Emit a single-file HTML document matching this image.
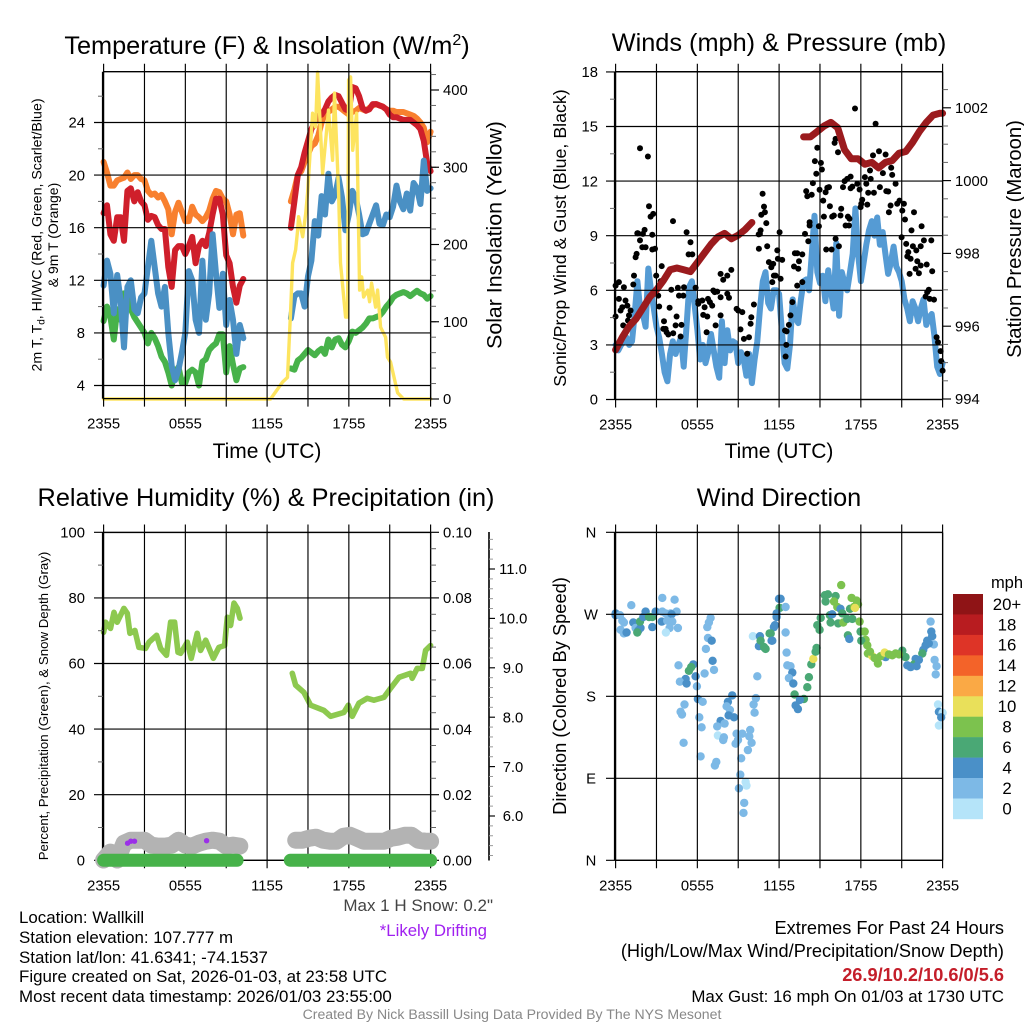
<!DOCTYPE html>
<html lang="en">
<head>
<meta charset="utf-8">
<title>Mesonet Meteogram - Wallkill</title>
<style>
html,body{margin:0;padding:0;background:#fff;}
svg{display:block;font-family:"Liberation Sans",Arial,sans-serif;fill:#000;}
.tick{font-size:14.8px;}
</style>
</head>
<body>
<svg id="chart" xmlns="http://www.w3.org/2000/svg" width="1024" height="1024" viewBox="0 0 1024 1024">
<rect width="1024" height="1024" fill="#fff"/>

<text x="267" y="54" font-size="25.3" text-anchor="middle">Temperature (F) &amp; Insolation (W/m<tspan dy="-9" font-size="16">2</tspan><tspan dy="9">)</tspan></text>
<text x="779" y="51" font-size="25.3" text-anchor="middle">Winds (mph) &amp; Pressure (mb)</text>
<text x="266" y="506" font-size="25.3" text-anchor="middle">Relative Humidity (%) &amp; Precipitation (in)</text>
<text x="779" y="506" font-size="25.3" text-anchor="middle">Wind Direction</text>

<text transform="translate(41.5 235) rotate(-90)" font-size="14.2" text-anchor="middle">2m T, T<tspan dy="3" font-size="10">d</tspan><tspan dy="-3">, HI/WC (Red, Green, Scarlet/Blue)</tspan></text>
<text transform="translate(58 235) rotate(-90)" font-size="14" text-anchor="middle">&amp; 9m T (Orange)</text>
<text transform="translate(501.5 235) rotate(-90)" font-size="21.3" text-anchor="middle">Solar Insolation (Yellow)</text>
<text transform="translate(566 238) rotate(-90)" font-size="17.8" text-anchor="middle">Sonic/Prop Wind &amp; Gust (Blue, Black)</text>
<text transform="translate(1021 239) rotate(-90)" font-size="20.3" text-anchor="middle">Station Pressure (Maroon)</text>
<text transform="translate(48 706) rotate(-90)" font-size="13.25" text-anchor="middle">Percent, Precipitation (Green), &amp; Snow Depth (Gray)</text>
<text transform="translate(566 696) rotate(-90)" font-size="18.3" text-anchor="middle">Direction (Colored By Speed)</text>

<text x="267" y="458" font-size="21" text-anchor="middle">Time (UTC)</text>
<text x="779" y="458" font-size="21" text-anchor="middle">Time (UTC)</text>

<text x="493" y="911" font-size="17" fill="#444" text-anchor="end">Max 1 H Snow: 0.2"</text>
<text x="487" y="936" font-size="16.8" fill="#a020f0" text-anchor="end">*Likely Drifting</text>

<g font-size="16.9">
<text x="19" y="923">Location: Wallkill</text>
<text x="19" y="943">Station elevation: 107.777 m</text>
<text x="19" y="963">Station lat/lon: 41.6341; -74.1537</text>
<text x="19" y="982">Figure created on Sat, 2026-01-03, at 23:58 UTC</text>
<text x="19" y="1002">Most recent data timestamp: 2026/01/03 23:55:00</text>
</g>
<g text-anchor="end" font-size="18.2">
<text x="1004" y="934">Extremes For Past 24 Hours</text>
<text x="1004" y="957">(High/Low/Max Wind/Precipitation/Snow Depth)</text>
<text x="1004" y="981" font-weight="bold" fill="#c41e2a">26.9/10.2/10.6/0/5.6</text>
<text x="1004" y="1002" font-size="16.9">Max Gust: 16 mph On 01/03 at 1730 UTC</text>
</g>
<text x="512" y="1019" font-size="14.1" fill="#888" text-anchor="middle">Created By Nick Bassill Using Data Provided By The NYS Mesonet</text>
<text x="1007" y="588" font-size="16.5" text-anchor="middle">mph</text>
</svg>

<script>
// ---------- shared axis data ----------
const timeTickLabels = ['2355','0555','1155','1755','2355'];
const timeTickHours = [0,6,12,18,24];
const timeGridHours = [0,3,6,9,12,15,18,21,24];

// ---------- temperature panel ----------
const tempTicks = [4,8,12,16,20,24];
const tempMinorTicks = [6,10,14,18,22,26];
const solarTicks = [0,100,200,300,400];
const tempHoursA = [0,.25,.5,.75,1,1.25,1.5,1.75,2,2.25,2.5,2.75,3,3.25,3.5,3.75,4,4.25,4.5,4.75,5,5.25,5.5,5.75,6,6.25,6.5,6.75,7,7.25,7.5,7.75,8,8.25,8.5,8.75,9,9.25,9.5,9.75,10,10.25];
const tempHoursB = [13.75,14,14.25,14.5,14.75,15,15.25,15.5,15.75,16,16.25,16.5,16.75,17,17.25,17.5,17.75,18,18.25,18.5,18.75,19,19.25,19.5,19.75,20,20.25,20.5,20.75,21,21.25,21.5,21.75,22,22.25,22.5,22.75,23,23.25,23.5,23.75,24];
const orangeA = [21,20.2,19.2,19.2,19.6,19.7,19.8,20.2,19.7,20,20,19.7,19.6,18.8,18.5,18.6,18.3,18.5,18,17.4,15.5,17.2,17.9,17.2,16.5,16.5,17.6,17,16.8,16.5,16.8,17.3,18.2,18.8,18.7,18.2,18,17,15.5,17,17.1,15.4];
const orangeB = [18,18.9,20,20.3,21,21.6,22.2,22.4,23,24,24.7,24.8,25,25.2,25.2,25,24.8,24.6,24.8,24.9,25.1,25,24.9,25.1,25.3,25.4,25.3,25.2,25,24.9,24.9,24.8,24.8,24.8,24.7,24.6,24.5,24.3,24,23.6,22.5,23.3];
const redA = [17.1,17.7,15.5,15,16.8,16.8,15,18.8,19,18,18.7,18,17.7,16.6,16.9,16.8,16.2,15.9,15.9,13,11.5,14.3,14.6,14.6,14,14.6,15.3,13.3,14.6,15,14.6,15.6,17,18.2,18.2,17,13.9,13.3,11.5,10.3,11.6,12.1];
const redB = [16,18,20,20.6,21.7,22.6,23.5,24,24.5,24.6,25,25.6,25.9,26.1,26,25.5,25,24.9,26.7,26.6,26,25.1,24.9,25,25.4,25.4,25.3,25.2,25,24.6,24.4,24.4,24.3,24.2,24.2,24.2,24,23.8,23.5,22.6,20.9,20.3];
const blueA = [11.6,13.5,12.5,9.5,12.4,10.5,6.9,11.5,12,9.8,9.5,10.7,11,13,15,13,11,10,11.5,8,5.5,4.4,5.2,6.5,8,12.7,12,9,8,13.5,9,11,15.5,12.5,9.9,12.5,8.6,10.5,9,6.4,8.6,7.6];
const blueB = [9.1,10.8,11,11,10,12.3,13.5,16.5,15.4,18.4,17,20.1,18,18.5,19.8,18.3,15.8,17,18.8,18.3,17,15.5,15.6,16.3,17,17.7,16.3,16.2,17,16.8,17.6,19.2,18,17.4,18.6,17.3,19.4,19,17.8,21.1,18.8,19];
const greenA = [8.9,10,9.2,7.5,9.8,9,11,11,9.8,9.2,8.8,8.4,8,7.2,8,7.6,7,6.2,5.8,5,4,5,5.4,4.2,4.2,5,5.2,5,4,5.8,6,6.7,7,7.2,7.9,7.9,5,7,5.6,4.4,5.3,5.4];
const greenB = [5.3,5.2,5.9,6.1,6.4,6.7,6.5,6.3,6.6,6.8,6.4,7.5,6.9,7.5,7.6,7.1,6.9,7.4,8.1,8,8.2,8.4,8.7,9.1,9.1,9.2,9.3,9.6,10,10.3,10.7,10.9,11,11.1,11,10.8,11,11.2,11,10.9,10.6,10.8];
const solarHours = [0,12.26,13.14,13.5,13.72,13.87,14.09,14.24,14.31,14.61,14.83,14.97,15.34,15.56,15.71,16.07,16.51,16.81,16.95,17.25,17.39,17.76,17.91,17.98,18.13,18.28,18.57,18.72,18.79,18.94,19.08,19.38,19.52,19.67,19.96,20.11,20.33,20.7,20.84,21.06,21.58,22.02,24];
const solarValues = [0,0,22,28,111,176,193,218,236,210,240,267,370,352,423,292,374,309,396,267,176,106,106,413,417,322,370,210,141,158,132,141,126,150,119,141,93,80,54,48,8,0,0];

// ---------- winds panel ----------
const windTicks = [0,3,6,9,12,15,18];
const windMinorTicks = [1.5,4.5,7.5,10.5,13.5,16.5];
const pressureTicks = [994,996,998,1000,1002];
const pressureMinorTicks = [994.5,995,995.5,996.5,997,997.5,998.5,999,999.5,1000.5,1001,1001.5,1002.5];
const windStepHours = 0.2;
const windSpeed = [3,2.7,3,3.2,3.4,3,3.2,4.7,6.5,5,4.7,4,7.2,6,5,4,3.4,2.5,1.5,1,2.5,3.2,2.5,3,3.4,1.8,4,6.2,6.5,5.2,3.8,2.2,3,2,2.6,3.6,2.7,1.8,1.2,4.3,2,3.8,2.7,3.2,3.1,2,2.6,2.2,1.3,2.5,.9,2.2,3.2,5,6.5,7,5.3,5,6,6,5.8,3.8,2,1.7,3,5.5,4.5,4.2,5.5,6.5,6.6,6,8,10.1,7,6.4,6.8,5.4,7.1,6,5,8.6,4.6,7,6.4,6,7,8,10.5,8,6.5,7.5,8.5,9.3,9.8,9,10,8.5,9.2,8,6.9,7.5,8.4,7.3,7,6.5,5.5,5,4.3,5.4,5,4.3,5,5.5,4.1,4.5,4.7,3.5,1.8,1.4,2];
const pressureHoursA = [0,.5,1,1.5,2,2.5,3,3.5,4,4.5,5,5.5,6,6.5,7,7.5,8,8.5,9,9.5,10];
const pressureA = [995.35,995.7,996,996.2,996.5,996.8,997,997.25,997.55,997.6,997.55,997.5,997.75,998,998.25,998.45,998.55,998.4,998.5,998.65,998.85];
const pressureHoursB = [13.8,14.3,14.8,15.3,15.8,16.3,16.8,17.3,17.8,18.3,18.8,19.3,19.8,20.3,20.8,21.3,21.8,22.3,22.8,23.3,23.8,24];
const pressureB = [1001.2,1001.2,1001.35,1001.5,1001.6,1001.45,1000.85,1000.6,1000.6,1000.45,1000.5,1000.35,1000.5,1000.55,1000.75,1000.8,1001.05,1001.35,1001.6,1001.8,1001.85,1001.85];
const gustHours = [0,.24,.61,.24,0,.37,.49,.56,.73,.86,.98,1.1,.91,1.3,1.35,1.47,1.54,1.59,2,1.79,1.96,2.2,2.69,2.69,2.89,3.38,3.3,2.98,2.89,3.13,4.09,4.57,5.02,4.65,4.97,5.87,5.36,5.63,5.5,5.21,3.96,3.2,3.55,3.67,3.5,3.74,3.87,4.23,4.48,4.4,4.77,4.84,6.07,6.07,6.36,6.78,6.92,7.09,6.53,6.43,6.73,7.27,7.46,7.17,8.2,8.32,7.71,7.71,7.9,8.2,8.49,9.96,10.15,9.91,9.66,9.42,9.17,8.88,9,9.3,9.79,10.52,11.13,11.25,11.57,11.43,11.62,11.5,10.59,7.34,6.68,7.71,1.79,2.37,2.45,2.76,2.57,2.13,1.64,4.21,10.79,10.89,10.96,10.69,11.06,10.64,10.5,17.57,19.08,16.15,16.07,14.8,16.32,14.63,15.07,15.14,14.73,14.48,13.99,14.07,14.39,14.97,15.54,15.66,15.41,15.24,15.73,15.29,15.9,16.02,16.51,16.56,17.05,17.17,16.88,17.13,14.24,14.24,14.92,13.9,12.04,17.25,17,16.81,16.69,17.37,17.25,17.74,17.91,18.1,18.03,17.98,18.47,18.3,18.4,18.72,18.54,18.96,19.4,19.87,20.01,20.55,20.3,20.23,19.62,19.82,19.33,18.89,18.67,20.18,20.06,20.67,20.84,21.16,21.04,21.24,21.9,22.46,21.72,11.87,11.91,12.23,11.74,12.11,14.14,13.16,13.33,13.7,13.46,13.09,13.41,13.33,13.7,15.46,15.85,16.15,16.39,21.33,20.99,21.82,22.39,22.63,23.17,22.07,21.48,21.41,21.65,22.14,22.39,22.83,22.02,22.26,23.24,21.58,22.99,22.87,22.75,23.05,23.37,12.97,12.84,12.72,12.55,12.43,12.53,12.48,23.56,23.66,23.85,23.9,24];
const gustMph = [6.26,6.45,6.17,5.53,4.56,4.89,5.07,4.07,5.44,5.16,4.62,4.89,4.34,6.32,6.81,7.82,8,9.14,9.1,8.74,8.37,8.37,9.05,8.24,8.28,7.33,6.5,6.81,5.86,5.71,6.03,6.14,6.17,5.71,5.71,6.14,7.97,7.97,8.64,9.19,5.04,5.11,4.3,3.88,3.88,3.7,3.57,3.64,4.56,4.07,3.46,4.1,5.4,5.26,5.44,5.53,5.35,5.16,5.07,4.65,4.56,5.9,5.93,5.99,5.81,5.59,5.62,6.9,6.58,6.81,7.12,4.52,5.22,4.16,2.51,3.33,3.85,4.98,4.89,4.8,3.42,8.28,8.42,7.55,7.45,7.27,6.81,6.45,9.1,4.07,3.7,4.62,13.81,13.35,10.62,10.2,10.05,9.32,9.14,9.8,11.3,10.6,10.29,10.15,9.69,9.29,9.07,15.99,15.15,14.32,14.1,13.83,13.59,13.1,13,12.64,12.4,11.89,11.45,11.17,11.25,11.52,11.63,11.67,11.39,10.93,10.62,10.05,10.05,10.11,10.11,10.48,10.05,9.93,9.56,9.56,9.74,9.56,9.52,9.1,9.19,12.25,12.12,12,11.67,11.7,11.61,11.85,11.54,10.97,10.75,10.57,10.71,12.22,11.85,12.12,11.36,11.36,11.67,11.45,11.43,11.85,12.34,12.73,12.44,13.46,13.64,13.41,12.58,10.66,10.29,10.75,10.93,10.75,10.38,9.89,10.29,9.52,9.29,8.19,7.73,7.67,6.81,6.63,8.7,8.04,8.04,7.97,7.6,7.31,7.18,6.26,6.45,8.24,8.24,8.83,8.42,8.55,8.92,8.42,8.42,8.74,8.74,8.19,8.1,7.86,7.73,7.6,7.36,7.42,7.18,6.94,7.05,6.9,6.03,5.9,5.66,5.53,5.49,5.35,4.62,4.1,3.74,3.79,3,2.36,3.42,3.15,2.66,2.11,1.59];

// ---------- humidity panel ----------
const rhTicks = [0,20,40,60,80,100];
const rhMinorTicks = [10,30,50,70,90];
const precipTicks = [0,.02,.04,.06,.08,.1];
const precipTickLabels = ['0.00','0.02','0.04','0.06','0.08','0.10'];
const precipMinorTicks = [.005,.01,.015,.025,.03,.035,.045,.05,.055,.065,.07,.075,.085,.09,.095];
const snowTicks = [6,7,8,9,10,11];
const snowTickLabels = ['6.0','7.0','8.0','9.0','10.0','11.0'];
const snowMinorTicks = [5.2,5.4,5.6,5.8,6.2,6.4,6.6,6.8,7.2,7.4,7.6,7.8,8.2,8.4,8.6,8.8,9.2,9.4,9.6,9.8,10.2,10.4,10.6,10.8,11.2,11.4,11.6];
const rhHoursA = [0,.15,.51,.76,1,1.49,1.74,1.93,2.3,2.59,3.08,3.33,3.89,4.18,4.62,4.92,5.21,5.46,5.65,6.14,6.43,6.87,7.12,7.49,8.05,8.46,8.88,9.08,9.32,9.57,9.81,10.01];
const rhA = [69.5,72.6,70.7,75.6,72.6,76.8,75.3,69.2,70.1,64.9,64.6,66.5,68.6,64.6,62.5,72.6,72.6,63.4,63.1,66.5,61.6,69.2,64,67.1,61.6,64.9,65.5,74.1,71.6,78.4,76.8,73.8];
const rhHoursB = [13.85,14.09,14.7,15.19,16.17,16.66,17.64,17.96,18.25,18.74,19.35,19.84,20.58,21.06,21.68,22.53,22.65,23.02,23.39,23.63,24];
const rhB = [57,53.4,51.2,47.3,45.7,43.9,45.1,47.3,43.9,47.9,49.4,48.8,49.7,52.4,55.8,57,55.5,58.5,58.5,64,65.5];
const precipHoursA = [0,2,4,6,8,9.8];
const precipA = [0,0,0,0,0,0];
const precipHoursB = [13.7,16,18,20,22,24];
const precipB = [0,0,0,0,0,0];
const snowHoursA = [0,.5,1,1.5,2,2.5,3,3.5,4,4.5,5,5.5,6,6.5,7,7.5,8,8.5,9,9.5,10];
const snowA = [5.11,5.27,5.11,5.45,5.51,5.51,5.51,5.41,5.39,5.39,5.41,5.51,5.41,5.39,5.45,5.49,5.51,5.49,5.39,5.41,5.39];
const snowHoursB = [14.1,14.6,15.1,15.6,16.1,16.6,17.1,17.6,18.1,18.6,19.1,19.6,20.1,20.6,21.1,21.6,22.1,22.6,23.1,23.6,24];
const snowB = [5.51,5.51,5.55,5.57,5.51,5.49,5.49,5.59,5.61,5.55,5.49,5.49,5.49,5.49,5.55,5.57,5.61,5.61,5.51,5.49,5.49];
const driftHours = [1.76,2,2.27,7.56];
const driftDepth = [5.45,5.49,5.49,5.5];

// ---------- direction panel ----------
const dirTicks = [0,90,180,270,360];
const dirTickLabels = ['N','E','S','W','N'];
const dirHours = [0,0,.32,1.15,.49,.37,.61,.61,.81,1.3,1.47,1.83,1.66,1.59,1.79,2.03,2.2,2.45,2.69,2.94,3.43,4.33,3.43,3.67,4.04,4.48,4.11,3.38,2.69,3.79,4.16,3.96,4.57,3.69,6.97,6.85,6.73,6.78,7.05,6.63,7.12,7.22,6.53,5.7,5.55,5.38,5.87,5.14,4.72,5.21,4.62,5.97,6.04,6.39,5.06,4.77,4.87,6.14,6.31,4.99,6.24,7.39,7.29,8.56,8.24,8.15,8.39,8.29,8.69,7.71,8,7.46,7.51,7.95,7.9,8.88,9.3,8.98,8.81,9.88,9.81,9.98,9.71,9.22,10.4,10.3,10.13,10.2,9.15,9.54,9.61,9.05,9.44,9.39,10.08,10.59,10.52,10.64,10.89,11.01,11.45,11.3,11.69,11.99,11.82,12.04,12.11,12.04,12.48,11.82,11.62,11.38,11.5,12.48,12.55,12.6,12.84,12.97,12.72,13.04,13.14,14.19,14.07,14.36,14.51,14.68,14.75,13.82,13.53,13.21,13.38,14.97,14.8,15.05,15.36,15.41,15.58,16.15,16.56,16.03,16.27,15.73,15.78,16.34,16.71,17,17.37,16.51,15.9,16.64,17.2,17.49,17.32,17.69,17.79,17.57,17.91,17.05,17.15,17.98,18.28,18.35,18.03,18.47,18.52,18.84,19.2,19.25,19.82,19.45,19.74,20.55,20.06,21.04,21.28,23.12,23.17,23.24,22.87,22.75,22.58,22.51,23.36,22.02,21.9,22.26,21.41,21.65,22.09,23.41,23.56,23.49,23.66,23.73,24,23.9,23.73,20.31,20.8,19.01,18.67,22.99];
const dirDegrees = [269,271,269,280,263,253,261,249,250,261,255,255,252,250,262,267,273,267,267,273,288,286,273,271,271,273,270,262,256,263,262,255,255,250,266,261,256,244,241,232,219,209,205,215,212,208,202,199,196,194,214,191,177,174,171,163,160,157,146,129,114,108,104,181,174,169,165,159,157,153,150,147,137,135,132,139,139,132,128,143,136,129,121,112,202,178,171,162,94,86,82,79,63,52,246,246,235,241,234,232,241,249,258,287,267,277,287,277,278,271,256,249,241,250,228,214,213,206,200,194,182,201,190,215,221,229,233,177,176,170,166,253,258,266,291,284,292,290,302,284,278,269,261,260,261,265,265,276,270,271,276,278,288,285,281,277,262,247,243,251,251,242,241,236,227,224,220,216,223,224,228,227,226,230,223,262,251,246,241,236,231,227,237,221,215,220,214,212,213,220,213,204,171,163,162,157,148,225,226,222,229,238];
const dirSpeed = [4,4,2,2,2,2,2,2,4,4,2,4,4,6,6,4,4,6,6,4,2,2,2,2,2,2,4,4,4,2,2,2,2,0,2,2,2,2,4,2,4,2,2,4,6,6,4,4,2,4,2,2,4,2,2,2,2,2,2,2,2,2,2,4,4,2,2,4,4,4,2,2,0,2,2,2,2,2,2,2,2,2,2,2,2,2,2,2,2,0,0,2,2,2,0,4,4,6,6,6,4,6,4,4,4,6,4,6,2,4,4,6,4,2,2,2,2,4,2,4,6,6,6,6,10,6,6,6,4,4,4,6,6,6,6,6,6,6,8,8,8,6,6,6,8,6,6,4,4,6,6,8,8,8,8,10,8,6,4,6,8,8,6,8,8,10,10,8,4,8,10,8,8,6,6,2,4,4,4,4,4,6,2,4,6,4,4,4,4,2,2,2,0,4,0,4,0,8,8,8,8,4];
const colorbarLabels = ['20+','18','16','14','12','10','8','6','4','2','0'];
const colorbarColors = ['#8f1416','#b81c20','#de3427','#f36329','#faa945','#e9e05a','#7cc24e','#4aa875','#4a90c8','#7db9e6','#b5e4f9'];

// ---------- axis functions ----------
const SVGNS = 'http://www.w3.org/2000/svg';
const root = document.getElementById('chart');
const xA = h => 103.6 + h * 13.625;
const xB = h => 615.6 + h * 13.625;
const yTemp = v => 385.5 - (v - 4) * 13.15;
const ySolar = v => 399 - v * 0.7725;
const yWind = v => 399.5 - v * 18.2;
const yPressure = v => 399 - (v - 994) * 36.4;
const yRh = v => 860.3 - v * 3.28;
const yPrecip = v => 860.3 - v * 3280;
const ySnow = v => 816 - (v - 6) * 49.4;
const yDir = v => 860.3 - v * (328 / 360);

function make(tag, attrs, parent) {
  const el = document.createElementNS(SVGNS, tag);
  for (const k in attrs) el.setAttribute(k, attrs[k]);
  (parent || root).appendChild(el);
  return el;
}
function group(name) {
  const g = make('g', {});
  
  
  return g;
}
function rule(g, name, x1, y1, x2, y2, w, color) {
  const el = make('line', {x1, y1, x2, y2, stroke: color || '#000', 'stroke-width': w || 1.15}, g);
  
  
  return el;
}
function label(g, name, x, y, text, anchor) {
  const el = make('text', {x, y, 'class': 'tick', 'text-anchor': anchor || 'middle'}, g);
  el.textContent = text;
  
  
  return el;
}
function series(g, name, hours, values, fx, fy, color, width) {
  const d = hours.map((h, i) => (i ? 'L' : 'M') + fx(h).toFixed(1) + ' ' + fy(values[i]).toFixed(1)).join('');
  const el = make('path', {d, fill: 'none', stroke: color, 'stroke-width': width, 'stroke-linecap': 'round', 'stroke-linejoin': 'round'}, g);
  
  
  return el;
}
function dots(g, name, hours, values, fx, fy, color, r) {
  hours.forEach((h, i) => {
    const el = make('circle', {cx: fx(h).toFixed(1), cy: fy(values[i]).toFixed(1), r, fill: color}, g);
    
    
  });
}
function frame(g, prefix, fx, top, bottom, left, right) {
  rule(g, prefix + '-top-axis', left, top, right, top, 1.3);
  rule(g, prefix + '-bottom-axis', left, bottom, right, bottom, 1.3);
  rule(g, prefix + '-left-axis', left - 0.6, top, left - 0.6, bottom, 2.2);
  rule(g, prefix + '-right-axis', right, top, right, bottom, 1.3);
  timeGridHours.forEach(h => rule(g, prefix + '-vertical-gridline', fx(h), top - 8, fx(h), bottom + 8));
  timeTickHours.forEach((h, i) => label(g, prefix + '-time-tick-label', fx(h), bottom + 30, timeTickLabels[i]));
}

// ---------- temperature panel ----------
const axisA = group('temperature-bottom-axis');
rule(axisA, 'temperature-bottom-axis-line', 103, 398.6, 431, 398.6, 1.3);
const temps = group('temperature-series');
series(temps, 'orange-9m-temperature-before-gap', tempHoursA, orangeA, xA, yTemp, '#f8802f', 6);
series(temps, 'orange-9m-temperature-after-gap', tempHoursB, orangeB, xA, yTemp, '#f8802f', 6);
series(temps, 'red-2m-temperature-before-gap', tempHoursA, redA, xA, yTemp, '#cf1f2b', 6);
series(temps, 'red-2m-temperature-after-gap', tempHoursB, redB, xA, yTemp, '#cf1f2b', 6);
series(temps, 'green-dewpoint-before-gap', tempHoursA, greenA, xA, yTemp, '#47b24a', 6);
series(temps, 'green-dewpoint-after-gap', tempHoursB, greenB, xA, yTemp, '#47b24a', 6);
series(temps, 'blue-wind-chill-before-gap', tempHoursA, blueA, xA, yTemp, '#4a90c4', 6);
series(temps, 'blue-wind-chill-after-gap', tempHoursB, blueB, xA, yTemp, '#4a90c4', 6);
series(temps, 'yellow-solar-insolation', solarHours, solarValues, xA, ySolar, '#fde45f', 3.4);
const gridA = group('temperature-grid');
frame(gridA, 'temperature', xA, 71.7, 398.6, 103.6, 430.6);
tempTicks.forEach(v => {
  rule(gridA, 'temperature-horizontal-gridline', 94, yTemp(v), 430.6, yTemp(v));
  label(gridA, 'temperature-tick-label', 85, yTemp(v) + 5.2, String(v), 'end');
});
tempMinorTicks.forEach(v => rule(gridA, 'temperature-minor-tick', 98, yTemp(v), 103, yTemp(v), 1, '#666'));
for (let w = 0; w <= 420; w += 20) rule(gridA, 'solar-minor-tick', 430.6, ySolar(w), 436, ySolar(w), 1, '#666');
solarTicks.forEach(v => {
  rule(gridA, 'solar-major-tick', 430.6, ySolar(v), 439, ySolar(v));
  label(gridA, 'solar-tick-label', 443, ySolar(v) + 5.2, String(v), 'start');
});

// ---------- winds panel ----------
const winds = group('wind-series');
series(winds, 'blue-sustained-wind', windSpeed.map((_, i) => i * windStepHours), windSpeed, xB, yWind, '#559bd4', 6);
dots(winds, 'black-wind-gust-point', gustHours, gustMph, xB, yWind, '#000', 3);
series(winds, 'maroon-pressure-before-gap', pressureHoursA, pressureA, xB, yPressure, '#9b1b1e', 7);
series(winds, 'maroon-pressure-after-gap', pressureHoursB, pressureB, xB, yPressure, '#9b1b1e', 7);
const gridB = group('wind-grid');
frame(gridB, 'wind', xB, 71.7, 399.5, 615.6, 942.6);
windTicks.forEach(v => {
  rule(gridB, 'wind-horizontal-gridline', 606, yWind(v), 942.6, yWind(v));
  label(gridB, 'wind-tick-label', 598, yWind(v) + 5.2, String(v), 'end');
});
windMinorTicks.forEach(v => rule(gridB, 'wind-minor-tick', 610, yWind(v), 615, yWind(v), 1, '#666'));
pressureMinorTicks.forEach(v => rule(gridB, 'pressure-minor-tick', 942.6, yPressure(v), 948, yPressure(v), 1, '#666'));
pressureTicks.forEach(v => {
  rule(gridB, 'pressure-major-tick', 942.6, yPressure(v), 951, yPressure(v));
  label(gridB, 'pressure-tick-label', 955, yPressure(v) + 5.2, String(v), 'start');
});

// ---------- humidity panel ----------
const hum = group('humidity-series');
series(hum, 'green-relative-humidity-before-gap', rhHoursA, rhA, xA, yRh, '#8dc94f', 5.6);
series(hum, 'green-relative-humidity-after-gap', rhHoursB, rhB, xA, yRh, '#8dc94f', 5.6);
const gridC = group('humidity-grid');
frame(gridC, 'humidity', xA, 532.5, 860.3, 103.6, 430.6);
rhTicks.forEach(v => {
  rule(gridC, 'humidity-horizontal-gridline', 94, yRh(v), 430.6, yRh(v));
  label(gridC, 'humidity-tick-label', 85, yRh(v) + 5.2, String(v), 'end');
});
rhMinorTicks.forEach(v => rule(gridC, 'humidity-minor-tick', 98, yRh(v), 103, yRh(v), 1, '#666'));
precipMinorTicks.forEach(v => rule(gridC, 'precipitation-minor-tick', 430.6, yPrecip(v), 436, yPrecip(v), 1, '#666'));
precipTicks.forEach((v, i) => {
  rule(gridC, 'precipitation-major-tick', 430.6, yPrecip(v), 439, yPrecip(v));
  label(gridC, 'precipitation-tick-label', 443, yPrecip(v) + 5.2, precipTickLabels[i], 'start');
});
const snowAxis = group('snow-depth-axis');
rule(snowAxis, 'snow-depth-axis-line', 489, 532, 489, 860.5, 1.6);
snowMinorTicks.forEach(v => rule(snowAxis, 'snow-depth-minor-tick', 489, ySnow(v), 493, ySnow(v), 1, '#999'));
snowTicks.forEach((v, i) => {
  rule(snowAxis, 'snow-depth-major-tick', 489, ySnow(v), 495, ySnow(v));
  label(snowAxis, 'snow-depth-tick-label', 513, ySnow(v) + 5.2, snowTickLabels[i]);
});
const ground = group('snow-and-precipitation-series');
series(ground, 'gray-snow-depth-before-gap', snowHoursA, snowA, xA, ySnow, '#b3b3b3', 17);
series(ground, 'gray-snow-depth-after-gap', snowHoursB, snowB, xA, ySnow, '#b3b3b3', 17);
series(ground, 'green-precipitation-before-gap', precipHoursA, precipA, xA, yPrecip, '#47b24a', 13);
series(ground, 'green-precipitation-after-gap', precipHoursB, precipB, xA, yPrecip, '#47b24a', 13);
dots(ground, 'purple-drifting-snow-point', driftHours, driftDepth, xA, ySnow, '#9b30e8', 2.7);

// ---------- direction panel ----------
const dirs = group('wind-direction-points');
dirHours.forEach((h, i) => {
  const idx = colorbarLabels.indexOf(String(dirSpeed[i]));
  const el = make('circle', {cx: xB(h).toFixed(1), cy: yDir(dirDegrees[i]).toFixed(1), r: 4.2, fill: colorbarColors[idx]}, dirs);
  
  
});
const gridD = group('direction-grid');
frame(gridD, 'direction', xB, 532.5, 860.3, 615.6, 942.6);
dirTicks.forEach((v, i) => {
  rule(gridD, 'direction-horizontal-gridline', 606, yDir(v), 942.6, yDir(v));
  label(gridD, 'direction-tick-label', 591, yDir(v) + 5.2, dirTickLabels[i]);
});

// ---------- colorbar ----------
const bar = group('wind-speed-colorbar');
colorbarLabels.forEach((t, i) => {
  const r = make('rect', {x: 953, y: 594 + i * 20.45, width: 30, height: 20.7, fill: colorbarColors[i]}, bar);
  
  
  const lab = label(bar, 'colorbar-label', 1007, 609.8 + i * 20.45, t);
  lab.style.fontSize = '16.8px';
});
</script>
</body>
</html>
